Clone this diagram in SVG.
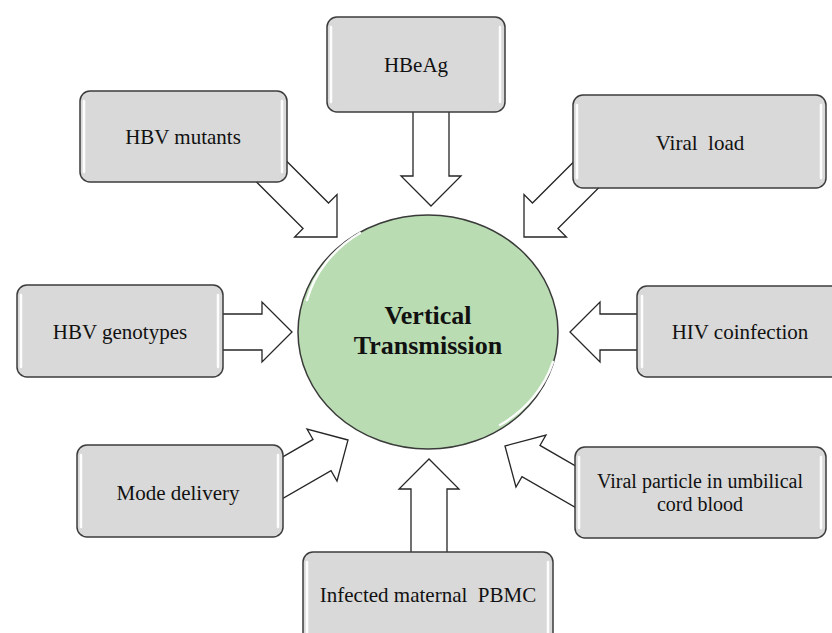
<svg xmlns="http://www.w3.org/2000/svg" xmlns:xlink="http://www.w3.org/1999/xlink" width="832" height="633" viewBox="0 0 832 633">
  <style>
    .box { fill: #d9d9d9; stroke: #3c3c3c; stroke-width: 1.5; }
    .shine { stroke: #ffffff; stroke-width: 2.5; stroke-linecap: round; fill: none; opacity: 0.95; }
    .lbl { font-family: "Liberation Serif", "Times New Roman", serif; font-size: 21px; fill: #111; text-anchor: middle; }
    .hub { font-family: "Liberation Serif", "Times New Roman", serif; font-size: 26px; font-weight: bold; fill: #111; text-anchor: middle; }
    .arrow { fill: #ffffff; stroke: #262626; stroke-width: 1.3; stroke-linejoin: miter; }
  </style>
  <defs>
    <!-- block arrow, tip at origin pointing along +x -->
    <path id="blockArrow" class="arrow" d="M0,0 L-30,-30 L-30,-18 L-110,-18 L-110,18 L-30,18 L-30,30 Z"/>
  </defs>

  <rect width="832" height="633" fill="#ffffff"/>

  <!-- connectors -->
  <g id="connectors">
    <use xlink:href="#blockArrow" transform="translate(431,206) rotate(90)"/>
    <use xlink:href="#blockArrow" transform="translate(337,237) rotate(45)"/>
    <use xlink:href="#blockArrow" transform="translate(524,237) rotate(135)"/>
    <use xlink:href="#blockArrow" transform="translate(292,332) rotate(0)"/>
    <use xlink:href="#blockArrow" transform="translate(570,332) rotate(180)"/>
    <use xlink:href="#blockArrow" transform="translate(348,440) rotate(-30)"/>
    <use xlink:href="#blockArrow" transform="translate(505,446) rotate(210)"/>
    <use xlink:href="#blockArrow" transform="translate(429,459) rotate(-90)"/>
  </g>

  <!-- central node -->
  <g id="vertical-transmission">
    <ellipse cx="428" cy="332" rx="130" ry="117" fill="#b9dcb2" stroke="#3a3a3a" stroke-width="1.5"/>
    <path class="shine" d="M307,300 A126,113 0 0 1 360,233" opacity="0.8"/>
    <path class="shine" d="M553,362 A126,113 0 0 1 500,425" opacity="0.8"/>
    <text class="hub" x="428" y="324">Vertical</text>
    <text class="hub" x="428" y="354">Transmission</text>
  </g>

  <g id="hbeag">
    <rect class="box" x="327" y="17" width="178" height="95" rx="10"/>
    <line class="shine" x1="331" y1="27" x2="331" y2="102"/>
    <line class="shine" x1="500" y1="27" x2="500" y2="102"/>
    <text class="lbl" x="416" y="72">HBeAg</text>
  </g>

  <g id="hbv-mutants">
    <rect class="box" x="80" y="91" width="207" height="91" rx="10"/>
    <line class="shine" x1="84" y1="101" x2="84" y2="172"/>
    <line class="shine" x1="282" y1="101" x2="282" y2="172"/>
    <text class="lbl" x="183" y="144">HBV mutants</text>
  </g>

  <g id="viral-load">
    <rect class="box" x="573" y="95" width="253" height="93" rx="10"/>
    <line class="shine" x1="577" y1="105" x2="577" y2="178"/>
    <line class="shine" x1="821" y1="105" x2="821" y2="178"/>
    <text class="lbl" x="700" y="150" xml:space="preserve">Viral  load</text>
  </g>

  <g id="hbv-genotypes">
    <rect class="box" x="17" y="285" width="206" height="92" rx="10"/>
    <line class="shine" x1="21" y1="295" x2="21" y2="367"/>
    <line class="shine" x1="218" y1="295" x2="218" y2="367"/>
    <text class="lbl" x="120" y="339">HBV genotypes</text>
  </g>

  <g id="hiv-coinfection">
    <rect class="box" x="637" y="286" width="205" height="91" rx="10"/>
    <line class="shine" x1="642" y1="296" x2="642" y2="367"/>
    <text class="lbl" x="740" y="339">HIV coinfection</text>
  </g>

  <g id="mode-delivery">
    <rect class="box" x="77" y="445" width="206" height="92" rx="10"/>
    <line class="shine" x1="81" y1="455" x2="81" y2="527"/>
    <line class="shine" x1="278" y1="455" x2="278" y2="527"/>
    <text class="lbl" x="178" y="500">Mode delivery</text>
  </g>

  <g id="viral-particle">
    <rect class="box" x="575" y="447" width="251" height="91" rx="10"/>
    <line class="shine" x1="579" y1="457" x2="579" y2="528"/>
    <line class="shine" x1="821" y1="457" x2="821" y2="528"/>
    <text class="lbl" x="700" y="488" style="font-size:20px">Viral particle in umbilical</text>
    <text class="lbl" x="700" y="511" style="font-size:20px">cord blood</text>
  </g>

  <g id="infected-pbmc">
    <rect class="box" x="303" y="552" width="250" height="100" rx="10"/>
    <line class="shine" x1="307" y1="562" x2="307" y2="640"/>
    <line class="shine" x1="548" y1="562" x2="548" y2="640"/>
    <text class="lbl" x="428" y="602" xml:space="preserve">Infected maternal  PBMC</text>
  </g>
</svg>
